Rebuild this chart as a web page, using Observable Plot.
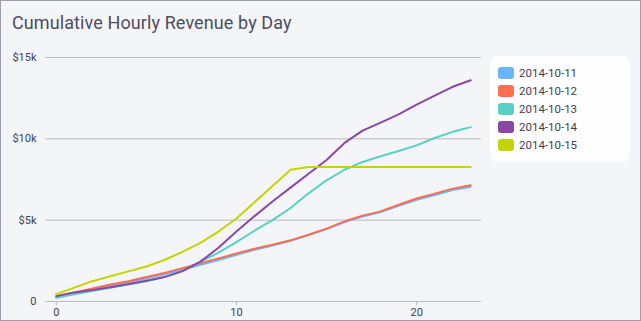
<!DOCTYPE html>
<html><head><meta charset="utf-8">
<script src="https://cdn.jsdelivr.net/npm/d3@7"></script>
<script src="https://cdn.jsdelivr.net/npm/@observablehq/plot@0.6"></script>
<style>
html,body{margin:0;padding:0;background:#fff;}
#wrap{position:relative;width:639px;height:319px;background:#f4f5f8;border:1px solid #9c9dae;font-family:Roboto,"DejaVu Sans",sans-serif;overflow:hidden;}
#title{position:absolute;left:11px;top:11px;font-size:18px;color:#4d4d60;letter-spacing:0.1px;}
#chart{position:absolute;left:-1px;top:39px;}
#legend{position:absolute;left:489px;top:55px;width:140px;height:106px;background:#fdfdfe;border-radius:8px;}
.row{position:absolute;left:8px;height:14px;display:flex;align-items:center;font-size:11.5px;color:#3f3f50;}
.sw{width:16px;height:12px;border-radius:3px;margin-right:5px;}
</style></head>
<body><div id="wrap"><div id="title">Cumulative Hourly Revenue by Day</div><div id="chart"></div><div id="legend"></div></div>
<script>
const days = ["2014-10-11","2014-10-12","2014-10-13","2014-10-14","2014-10-15"];
const colors = ["#6ab5fc","#fd6f50","#58d0c6","#8a47a4","#c3d400"];
const hours = d3.range(0,24);
const rev_1011 = [250,500,730,980,1200,1420,1680,1950,2250,2550,2870,3180,3440,3730,4080,4450,4880,5220,5500,5880,6250,6550,6850,7050];
const rev_1012 = [320,560,800,1050,1250,1500,1750,2050,2350,2650,2950,3240,3490,3760,4100,4480,4930,5280,5540,5950,6330,6630,6940,7150];
const rev_1013 = [230,450,650,850,1050,1250,1500,1850,2450,3000,3650,4350,5000,5750,6650,7450,8100,8580,8930,9250,9600,10050,10430,10720];
const rev_1014 = [330,560,700,880,1070,1280,1500,1870,2450,3300,4300,5250,6150,7000,7850,8700,9750,10500,11000,11500,12100,12650,13200,13600];
const rev_1015 = [450,850,1250,1550,1850,2150,2550,3050,3600,4300,5100,6100,7100,8100,8270,8270,8270,8270,8270,8270,8270,8270,8270,8270];
const series = [rev_1011, rev_1012, rev_1013, rev_1014, rev_1015];
const yTicks = [0,5000,10000,15000];
const yLabels = ["0","$5k","$10k","$15k"];
const xTicks = [0,10,20];

const data = [];
series.forEach((s,i)=>s.forEach((v,h)=>data.push({day:days[i],hour:hours[h],rev:v})));

const plot = Plot.plot({
  width: 491, height: 282,
  marginLeft: 45, marginRight: 10, marginTop: 17, marginBottom: 21,
  style: {background:"transparent", fontFamily:"Roboto, sans-serif", fontSize:"11px", color:"#3f3f50"},
  x: {domain:[-0.6,23.6], ticks: xTicks},
  y: {domain:[0,15000], ticks: yTicks},
  color: {domain: days, range: colors},
  marks: [
    Plot.gridY(yTicks, {stroke:"#b9b9bf", strokeOpacity:1, strokeWidth:1}),
    Plot.axisY(yTicks, {tickSize:0, tickPadding:9, tickFormat:(d)=>yLabels[yTicks.indexOf(d)], label:null, fontSize:11}),
    Plot.axisX(xTicks, {tickSize:4, tickPadding:3, stroke:"#b9b9bf", label:null, fontSize:11}),
    Plot.line(data, {x:"hour", y:"rev", z:"day", stroke:"day", strokeWidth:2, curve:"linear"})
  ]
});
document.getElementById("chart").appendChild(plot);

const leg = document.getElementById("legend");
days.forEach((d,i)=>{
  const r = document.createElement("div");
  r.className="row"; r.style.top = (10 + i*18)+"px";
  r.innerHTML = `<div class="sw" style="background:${colors[i]}"></div><span>${d}</span>`;
  leg.appendChild(r);
});
</script></body></html>
